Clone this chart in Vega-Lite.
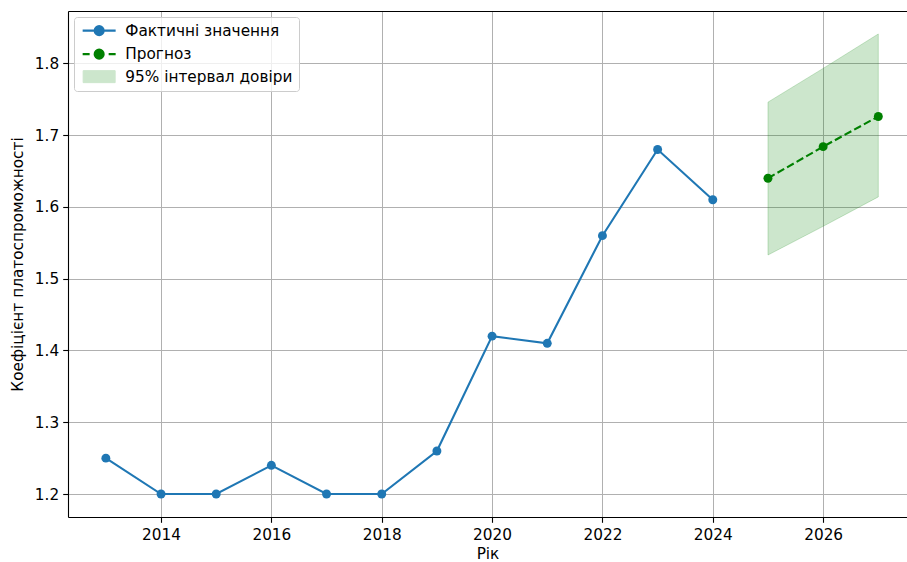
{
  "$schema": "https://vega.github.io/schema/vega-lite/v6.json",
  "autosize": "none",
  "width": 839,
  "height": 506,
  "padding": {"left": 68, "top": 11, "right": 0, "bottom": 45},
  "background": "white",
  "datasets": {
    "actual": [
      {"year": 2013, "value": 1.25, "series": "Фактичні значення"},
      {"year": 2014, "value": 1.20, "series": "Фактичні значення"},
      {"year": 2015, "value": 1.20, "series": "Фактичні значення"},
      {"year": 2016, "value": 1.24, "series": "Фактичні значення"},
      {"year": 2017, "value": 1.20, "series": "Фактичні значення"},
      {"year": 2018, "value": 1.20, "series": "Фактичні значення"},
      {"year": 2019, "value": 1.26, "series": "Фактичні значення"},
      {"year": 2020, "value": 1.42, "series": "Фактичні значення"},
      {"year": 2021, "value": 1.41, "series": "Фактичні значення"},
      {"year": 2022, "value": 1.56, "series": "Фактичні значення"},
      {"year": 2023, "value": 1.68, "series": "Фактичні значення"},
      {"year": 2024, "value": 1.61, "series": "Фактичні значення"}
    ],
    "forecast": [
      {"year": 2025, "value": 1.640, "series": "Прогноз"},
      {"year": 2026, "value": 1.684, "series": "Прогноз"},
      {"year": 2027, "value": 1.726, "series": "Прогноз"}
    ],
    "ci": [
      {"year": 2025, "lower": 1.533, "upper": 1.746},
      {"year": 2026, "lower": 1.573, "upper": 1.793},
      {"year": 2027, "lower": 1.614, "upper": 1.841}
    ]
  },
  "layer": [
    {
      "data": {"name": "ci"},
      "mark": {"type": "area", "fill": "#008000", "fillOpacity": 0.2, "stroke": "#008000", "strokeOpacity": 0.2, "strokeWidth": 1},
      "encoding": {
        "x": {"field": "year", "type": "quantitative", "scale": {"domain": [2012.314, 2027.52], "nice": false, "zero": false},
              "axis": {"orient": "top", "labels": false, "ticks": false, "grid": false, "domain": true, "title": null}},
        "y": {"field": "lower", "type": "quantitative", "scale": {"domain": [1.168, 1.873], "nice": false, "zero": false},
              "axis": {"values": [1.2, 1.3, 1.4, 1.5, 1.6, 1.7, 1.8], "format": ".1f", "grid": true, "title": "Коефіцієнт платоспроможності", "titlePadding": 9, "labelPadding": 4}},
        "y2": {"field": "upper"}
      }
    },
    {
      "data": {"name": "actual"},
      "mark": {"type": "line", "strokeWidth": 2.1, "point": {"filled": true, "size": 80, "opacity": 1}},
      "encoding": {
        "x": {"field": "year", "type": "quantitative",
              "axis": {"orient": "bottom", "values": [2014, 2016, 2018, 2020, 2022, 2024, 2026], "format": "d", "grid": true, "title": "Рік", "titlePadding": 4, "labelPadding": 5}},
        "y": {"field": "value", "type": "quantitative"},
        "color": {
          "field": "series", "type": "nominal",
          "scale": {"domain": ["Фактичні значення", "Прогноз", "95% інтервал довіри"], "range": ["#1f77b4", "#008000", "#cce6cc"]},
          "legend": {
            "orient": "top-left", "offset": 6, "title": null, "padding": 6,
            "symbolOffset": 11.5, "labelOffset": 18.5, "rowPadding": 4.5, "labelLimit": 400,
            "fillColor": "rgba(255,255,255,0.8)", "strokeColor": "#cccccc", "cornerRadius": 3,
            "labelFont": "DejaVu Sans", "labelFontSize": 15.3, "labelColor": "#000",
            "symbolSize": 100,
            "encode": {
              "symbols": {
                "update": {
                  "shape": {"signal": "datum.value == 'Фактичні значення' ? 'M-3.3,0H3.3M-0.9,0A0.9,0.9 0 1,0 0.9,0A0.9,0.9 0 1,0 -0.9,0Z' : datum.value == 'Прогноз' ? 'M-3.3,0H-1.9M1.9,0H3.3M-0.9,0A0.9,0.9 0 1,0 0.9,0A0.9,0.9 0 1,0 -0.9,0Z' : 'M-3.2,-1.2H3.2V1.2H-3.2Z'"},
                  "fill": {"signal": "datum.value == 'Фактичні значення' ? '#1f77b4' : datum.value == 'Прогноз' ? '#008000' : '#cce6cc'"},
                  "stroke": {"signal": "datum.value == 'Фактичні значення' ? '#1f77b4' : datum.value == 'Прогноз' ? '#008000' : '#a6d3a6'"},
                  "strokeWidth": {"signal": "datum.value == '95% інтервал довіри' ? 1 : 2.1"},
                  "size": {"value": 100},
                  "opacity": {"value": 1},
                  "fillOpacity": {"value": 1},
                  "strokeOpacity": {"value": 1}
                }
              }
            }
          }
        }
      }
    },
    {
      "data": {"name": "forecast"},
      "mark": {"type": "line", "strokeWidth": 2.1, "strokeDash": [7.7, 3.3], "point": {"filled": true, "size": 80, "opacity": 1}},
      "encoding": {
        "x": {"field": "year", "type": "quantitative", "axis": null},
        "y": {"field": "value", "type": "quantitative"},
        "color": {"field": "series", "type": "nominal"}
      }
    }
  ],
  "resolve": {"axis": {"x": "independent"}},
  "config": {
    "view": {"stroke": null},
    "axis": {
      "labelFont": "DejaVu Sans", "titleFont": "DejaVu Sans",
      "labelFontSize": 15.3, "titleFontSize": 15.3, "titleFontWeight": "normal",
      "labelColor": "#000", "titleColor": "#000",
      "domainColor": "#000", "domainWidth": 1.1,
      "tickColor": "#000", "tickWidth": 1.1, "tickSize": 5.3,
      "gridColor": "#b0b0b0", "gridWidth": 1, "gridOpacity": 1,
      "labelFlush": false, "labelOverlap": false
    }
  }
}
